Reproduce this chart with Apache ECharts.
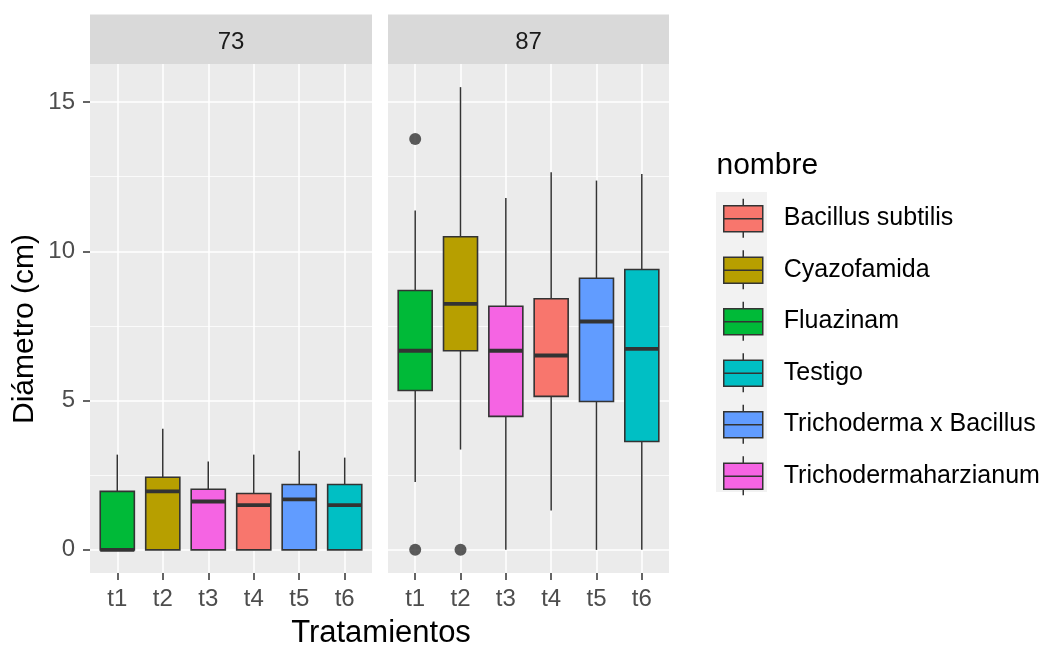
<!DOCTYPE html>
<html>
<head>
<meta charset="utf-8">
<script src="https://cdn.jsdelivr.net/npm/echarts@6/dist/echarts.min.js"></script>
<style>
html,body{margin:0;padding:0;background:#fff;}
#chart{width:1048px;height:648px;}
</style>
</head>
<body>
<div id="chart"></div>
<script>
// ---- data ----
const treatments = ['t1', 't2', 't3', 't4', 't5', 't6'];
const panels = ['73', '87'];
const nombres = ['Bacillus subtilis', 'Cyazofamida', 'Fluazinam', 'Testigo', 'Trichoderma x Bacillus', 'Trichodermaharzianum'];
const palette = ['#F8766D', '#B79F00', '#00BA38', '#00BFC4', '#619CFF', '#F564E3'];
// nombre of each treatment t1..t6
const treatmentNombre = ['Fluazinam', 'Cyazofamida', 'Trichodermaharzianum', 'Bacillus subtilis', 'Trichoderma x Bacillus', 'Testigo'];
// [lower whisker, Q1, median, Q3, upper whisker] per treatment
const box73 = [
  [0, 0, 0, 1.96, 3.19],
  [0, 0, 1.96, 2.43, 4.06],
  [0, 0, 1.62, 2.03, 2.96],
  [0, 0, 1.50, 1.89, 3.19],
  [0, 0, 1.69, 2.19, 3.32],
  [0, 0, 1.50, 2.19, 3.09]
];
const box87 = [
  [2.27, 5.34, 6.67, 8.69, 11.37],
  [3.36, 6.67, 8.24, 10.49, 15.5],
  [0, 4.47, 6.67, 8.16, 11.79],
  [1.32, 5.14, 6.51, 8.41, 12.65],
  [0, 4.97, 7.65, 9.10, 12.37],
  [0, 3.63, 6.73, 9.39, 12.59]
];
const outliers87 = [['t1', 13.76], ['t1', 0], ['t2', 0]];
const yTicks = [0, 5, 10, 15];
const yMinorTicks = [2.5, 7.5, 12.5];
const yMin = -0.775, yMax = 16.275;

// ---- chart ----
const FONT = '"Liberation Sans", Arial, sans-serif';
const chart = echarts.init(document.getElementById('chart'), null, {renderer: 'canvas'});
const xPos = treatments.map((t, i) => i + 1);
const boxesByPanel = [box73, box87];
const gridDefs = [
  {left: 90, top: 64, width: 282, height: 509},
  {left: 388, top: 64, width: 281, height: 509}
];

function renderBox(params, api) {
  const x = api.value(0);
  const lo = api.coord([x, api.value(1)]);
  const q1 = api.coord([x, api.value(2)]);
  const md = api.coord([x, api.value(3)]);
  const q3 = api.coord([x, api.value(4)]);
  const hi = api.coord([x, api.value(5)]);
  const bw = api.size([1, 0])[0] * 0.75;
  const fill = api.visual('color');
  const stroke = '#333333';
  return {
    type: 'group',
    children: [
      {type: 'line', shape: {x1: lo[0], y1: lo[1], x2: q1[0], y2: q1[1]}, style: {stroke: stroke, lineWidth: 1.5}},
      {type: 'line', shape: {x1: q3[0], y1: q3[1], x2: hi[0], y2: hi[1]}, style: {stroke: stroke, lineWidth: 1.5}},
      {type: 'rect', shape: {x: q1[0] - bw / 2, y: q3[1], width: bw, height: q1[1] - q3[1]}, style: {fill: fill, stroke: stroke, lineWidth: 1.6}},
      {type: 'line', shape: {x1: md[0] - bw / 2, y1: md[1], x2: md[0] + bw / 2, y2: md[1]}, style: {stroke: stroke, lineWidth: 3.8}}
    ]
  };
}

const xAxes = [], yAxes = [], series = [];
gridDefs.forEach((g, p) => {
  xAxes.push({
    type: 'value', gridIndex: p, min: 0.4, max: 6.6, position: 'bottom',
    axisLine: {show: false, onZero: false},
    axisTick: {show: true, customValues: xPos, length: 7, lineStyle: {color: '#333333', width: 1.5}},
    axisLabel: {customValues: xPos, formatter: v => treatments[Math.round(v) - 1], color: '#4D4D4D', fontSize: 24, fontFamily: FONT, margin: 14},
    splitLine: {show: true, lineStyle: {color: '#FFFFFF', width: 1.5}}
  });
  yAxes.push({
    type: 'value', gridIndex: p, min: yMin, max: yMax, position: 'left',
    axisLine: {show: false, onZero: false},
    axisTick: {show: p === 0, customValues: yTicks, length: 7, lineStyle: {color: '#333333', width: 1.5}},
    axisLabel: {show: p === 0, customValues: yTicks, color: '#4D4D4D', fontSize: 24, fontFamily: FONT, margin: 15},
    splitLine: {show: true, lineStyle: {color: '#FFFFFF', width: 1.5}}
  });
  yAxes.push({
    type: 'value', gridIndex: p, min: yMin, max: yMax, position: 'left',
    axisLine: {show: false, onZero: false},
    axisTick: {show: false, customValues: yMinorTicks},
    axisLabel: {show: false, customValues: yMinorTicks},
    splitLine: {show: true, lineStyle: {color: '#FFFFFF', width: 0.75}}
  });
  nombres.forEach((n, k) => {
    const data = [];
    treatments.forEach((t, i) => {
      if (treatmentNombre[i] === n) data.push([i + 1].concat(boxesByPanel[p][i]));
    });
    series.push({
      type: 'custom', name: n, xAxisIndex: p, yAxisIndex: p * 2,
      renderItem: renderBox,
      itemStyle: {color: palette[k], borderColor: '#333333', borderWidth: 1.5},
      encode: {x: 0, y: [1, 2, 3, 4, 5]},
      data: data,
      z: 3
    });
  });
});
series.push({
  type: 'scatter', name: 'outliers', xAxisIndex: 1, yAxisIndex: 2,
  symbol: 'circle', symbolSize: 12,
  itemStyle: {color: '#333333'},
  data: outliers87.map(o => [treatments.indexOf(o[0]) + 1, o[1]]),
  z: 4
});

const graphics = [];
gridDefs.forEach((g, p) => {
  graphics.push({type: 'rect', shape: {x: g.left, y: 14.5, width: g.width, height: 49.5}, style: {fill: '#D9D9D9'}, z: -1});
  graphics.push({type: 'text', x: g.left + g.width / 2, y: 42, style: {text: panels[p], fill: '#1A1A1A', font: '24px ' + FONT, textAlign: 'center', textVerticalAlign: 'middle'}});
});
graphics.push({type: 'rect', shape: {x: 716, y: 192, width: 51, height: 300}, style: {fill: '#F2F2F2'}, z: -1});
graphics.push({type: 'text', x: 716.5, y: 166, style: {text: 'nombre', fill: '#000000', font: '30px ' + FONT, textAlign: 'left', textVerticalAlign: 'middle'}});
graphics.push({type: 'text', x: 381, y: 633, style: {text: 'Tratamientos', fill: '#000000', font: '31px ' + FONT, textAlign: 'center', textVerticalAlign: 'middle'}});
graphics.push({type: 'text', x: 25, y: 329, rotation: Math.PI / 2, style: {text: 'Diámetro (cm)', fill: '#000000', font: '30px ' + FONT, textAlign: 'center', textVerticalAlign: 'middle'}});

chart.setOption({
  animation: false,
  backgroundColor: '#FFFFFF',
  grid: gridDefs.map(g => Object.assign({show: true, backgroundColor: '#EBEBEB', borderWidth: 0}, g)),
  xAxis: xAxes,
  yAxis: yAxes,
  legend: {
    data: nombres,
    orient: 'vertical',
    left: 723, top: 198,
    padding: 0,
    itemWidth: 39, itemHeight: 39, itemGap: 11,
    selectedMode: false,
    icon: 'path://M0,7 L39,7 L39,33 L0,33 Z M0,20 L39,20 M19.5,0 L19.5,7 M19.5,33 L19.5,39',
    itemStyle: {borderColor: '#333333', borderWidth: 1.5},
    textStyle: {color: '#000000', fontSize: 25, fontFamily: FONT, padding: [0, 0, 0, 16]}
  },
  graphic: graphics,
  series: series
});
</script>
</body>
</html>
